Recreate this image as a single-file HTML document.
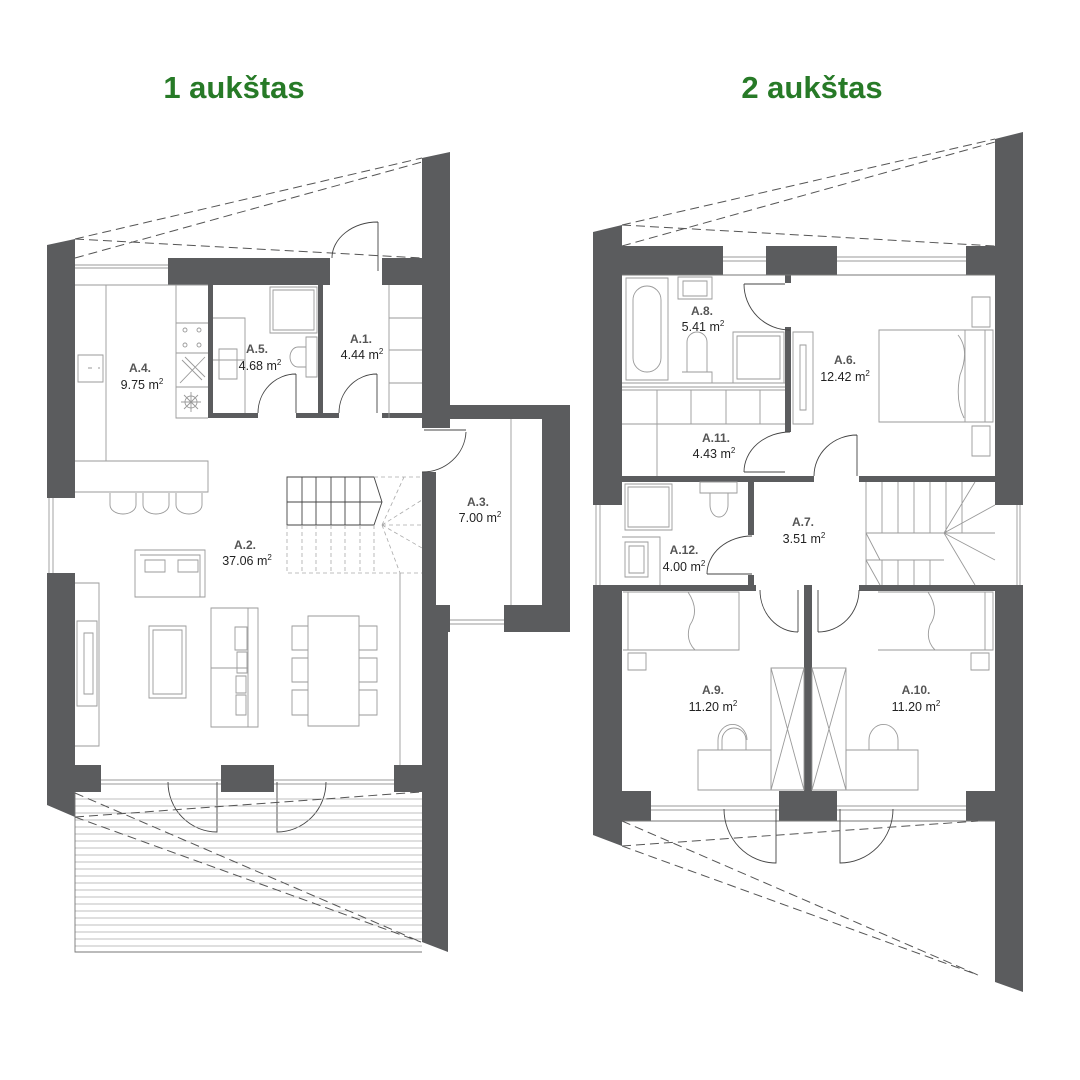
<!DOCTYPE html>
<html><head><meta charset="utf-8"><style>
html,body{margin:0;padding:0;background:#fff;}
svg{display:block;}
.w{fill:#5b5c5e;}
.t{fill:none;stroke:#9a9a9a;stroke-width:0.9;}
.k{fill:none;stroke:#444;stroke-width:0.9;}
.d{fill:none;stroke:#555;stroke-width:1;stroke-dasharray:9 5;}
.dl{fill:none;stroke:#aaa;stroke-width:0.8;stroke-dasharray:4 3;}
.lb{font-family:"Liberation Sans",sans-serif;font-size:12px;fill:#555;font-weight:bold;text-anchor:middle;}
.ar{font-family:"Liberation Sans",sans-serif;font-size:12.5px;fill:#222;text-anchor:middle;}
.ti{font-family:"Liberation Sans",sans-serif;font-size:31px;fill:#277a27;font-weight:bold;text-anchor:middle;}
</style></head><body>
<svg width="1080" height="1080" viewBox="0 0 1080 1080" xmlns="http://www.w3.org/2000/svg">
<text class="ti" x="234" y="98">1 aukštas</text>
<text class="ti" x="812" y="98">2 aukštas</text>

<!-- ===== FLOOR 1 ===== -->
<!-- dashed roof lines top -->
<path class="d" d="M75 239 L422 158 M75 258 L422 162 M75 239 L422 258"/>
<!-- walls -->
<polygon class="w" points="47,245 75,239 75,498 47,498"/>
<polygon class="w" points="47,573 75,573 75,765 101,765 101,792 75,792 75,817 47,805"/>
<rect class="w" x="168" y="258" width="162" height="27"/>
<rect class="w" x="382" y="258" width="40" height="27"/>
<polygon class="w" points="422,158 450,152 450,405 570,405 570,632 504,632 504,605 542,605 542,419 450,419 450,428 422,428"/>
<rect class="w" x="422" y="472" width="14" height="133"/>
<polygon class="w" points="422,605 450,605 450,632 436,632 436,632 448,632 448,952 422,942"/>
<rect class="w" x="221" y="765" width="53" height="27"/>
<rect class="w" x="394" y="765" width="28" height="27"/>
<!-- interior walls -->
<rect class="w" x="208" y="285" width="5" height="133"/>
<rect class="w" x="208" y="413" width="50" height="5"/>
<rect class="w" x="318" y="285" width="5" height="133"/>
<rect class="w" x="296" y="413" width="43" height="5"/>
<rect class="w" x="382" y="413" width="40" height="5"/>
<!-- windows -->
<path class="t" d="M75 265 H168 M75 268 H168 M49 498 V573 M53 498 V573 M450 620 H504 M450 624 H504 M101 780 H221 M101 784 H221 M274 780 H394 M274 784 H394"/>
<!-- doors -->
<path class="k" d="M378 222 V271 M332 258 A46 36 0 0 1 378 222"/>
<path class="k" d="M296 413 V374 M258 413 A38 39 0 0 1 296 374"/>
<path class="k" d="M377 413 V374 M339 413 A38 39 0 0 1 377 374"/>
<path class="k" d="M424 430 H466 M466 432 A44 42 0 0 1 422 472"/>
<path class="k" d="M168 782 A49 50 0 0 0 217 832 V782 M326 782 A49 50 0 0 1 277 832 V782"/>
<!-- kitchen -->
<path class="t" d="M75 285 H208 M106 285 V461 M75 461 H208 V492 H75 M78 355 H103 V382 H78 Z M176 285 V418 H208 M176 323 H208 M176 353 H208 M176 387 H208 M88 368 H92 M98 368 H100"/>
<path class="t" d="M110 493 V505 A13 9 0 0 0 136 505 V493 M143 493 V505 A13 9 0 0 0 169 505 V493 M176 493 V505 A13 9 0 0 0 202 505 V493"/>
<circle class="t" cx="191" cy="402" r="6"/><path class="t" d="M181 402 H201 M191 392 V412 M184 395 L198 409 M198 395 L184 409"/>
<path class="t" d="M182 360 L202 380 M185 357 L205 377 M180 383 L205 357"/>
<circle class="t" cx="185" cy="330" r="2"/><circle class="t" cx="199" cy="330" r="2"/><circle class="t" cx="185" cy="345" r="2"/><circle class="t" cx="199" cy="345" r="2"/>
<!-- A.5 -->
<path class="t" d="M270 287 H317 V333 H270 Z M273 290 H314 V330 H273 Z M219 349 H237 V379 H219 Z M306 337 H317 V377 H306 Z M213 318 H245 V413 M213 360 H245"/>
<path class="t" d="M306 347 H298 A8 10 0 0 0 298 367 H306"/>
<!-- A.1 shelves -->
<path class="t" d="M389 285 V418 M389 318 H422 M389 350 H422 M389 383 H422"/>
<!-- stairs -->
<path class="k" d="M287 477 H374 L382 502 L374 525 H287 Z M287 502 H382 M302 477 V525 M316 477 V525 M331 477 V525 M345 477 V525 M360 477 V525"/>
<path class="dl" d="M287 525 V573 H422 M302 525 V573 M316 525 V573 M331 525 V573 M345 525 V573 M360 525 V573 M374 525 V573 M382 525 L404 477 M382 525 L422 500 M382 525 L422 525 M382 525 L422 548 M382 525 L400 573 M374 477 H422"/>
<path class="t" d="M400 573 V765"/>
<!-- living furniture -->
<path class="t" d="M135 550 H205 V597 H135 Z M140 555 H200 V597 M145 560 H165 V572 H145 Z M178 560 H198 V572 H178 Z"/>
<path class="t" d="M75 583 H99 V746 H75 M77 621 H97 V706 H77 Z M84 633 H93 V694 H84 Z"/>
<path class="t" d="M149 626 H186 V698 H149 Z M153 630 H182 V694 H153 Z"/>
<path class="t" d="M211 608 H258 V727 H211 Z M211 668 H248 M248 608 V727 M235 627 H247 V650 H235 Z M237 652 H247 V673 H237 Z M236 676 H246 V693 H236 Z M236 695 H246 V715 H236 Z"/>
<path class="t" d="M308 616 H359 V726 H308 Z M292 626 H308 V650 H292 Z M292 658 H308 V682 H292 Z M292 690 H308 V715 H292 Z M359 626 H377 V650 H359 Z M359 658 H377 V682 H359 Z M359 690 H377 V715 H359 Z"/>
<path class="t" d="M511 419 V605"/>
<!-- terrace -->
<g stroke="#aaa" stroke-width="0.8">
<path d="M75 799 H422 M75 806 H422 M75 813 H422 M75 820 H422 M75 827 H422 M75 834 H422 M75 841 H422 M75 848 H422 M75 855 H422 M75 862 H422 M75 869 H422 M75 876 H422 M75 883 H422 M75 890 H422 M75 897 H422 M75 904 H422 M75 911 H422 M75 918 H422 M75 925 H422 M75 932 H422 M75 939 H422 M75 946 H422"/>
</g>
<path class="t" d="M75 792 V952 H422" style="stroke:#777"/>
<path class="d" d="M75 793 L421 942 M75 817 L421 942 M75 817 L421 792"/>
<!-- labels F1 -->
<text class="lb" x="140" y="372">A.4.</text><text class="ar" x="142" y="389">9.75 m<tspan dy="-5" font-size="8">2</tspan></text>
<text class="lb" x="257" y="353">A.5.</text><text class="ar" x="260" y="370">4.68 m<tspan dy="-5" font-size="8">2</tspan></text>
<text class="lb" x="361" y="343">A.1.</text><text class="ar" x="362" y="359">4.44 m<tspan dy="-5" font-size="8">2</tspan></text>
<text class="lb" x="245" y="549">A.2.</text><text class="ar" x="247" y="565">37.06 m<tspan dy="-5" font-size="8">2</tspan></text>
<text class="lb" x="478" y="506">A.3.</text><text class="ar" x="480" y="522">7.00 m<tspan dy="-5" font-size="8">2</tspan></text>

<!-- ===== FLOOR 2 ===== -->
<path class="d" d="M622 225 L995 139 M622 246 L995 142 M622 225 L995 246"/>
<polygon class="w" points="593,232 622,225 622,505 593,505"/>
<polygon class="w" points="593,585 622,585 622,791 651,791 651,821 622,821 622,846 593,835"/>
<polygon class="w" points="995,139 1023,132 1023,505 995,505"/>
<polygon class="w" points="995,585 1023,585 1023,992 995,982 995,821 966,821 966,791 995,791"/>
<rect class="w" x="622" y="246" width="101" height="29"/>
<rect class="w" x="766" y="246" width="71" height="29"/>
<rect class="w" x="966" y="246" width="29" height="29"/>
<rect class="w" x="779" y="791" width="58" height="30"/>
<rect class="w" x="804" y="585" width="8" height="206"/>
<!-- interior walls -->
<rect class="w" x="622" y="585" width="134" height="6"/>
<rect class="w" x="859" y="585" width="136" height="6"/>
<rect class="w" x="785" y="327" width="6" height="105"/>
<rect class="w" x="785" y="275" width="6" height="8"/>
<rect class="w" x="622" y="476" width="192" height="6"/>
<rect class="w" x="859" y="476" width="136" height="6"/>
<rect class="w" x="748" y="482" width="6" height="53"/>
<rect class="w" x="748" y="575" width="6" height="10"/>
<!-- windows -->
<path class="t" d="M723 257 H766 M723 261 H766 M837 257 H966 M837 261 H966 M596 505 V585 M600 505 V585 M1017 505 V585 M1020 505 V585 M651 806 H779 M651 810 H779 M837 806 H966 M837 810 H966"/>
<path class="t" d="M622 275 H995 M622 821 H995" style="stroke:#777"/>
<!-- doors -->
<path class="k" d="M744 284 H785 M744 284 A46 46 0 0 0 790 330"/>
<path class="k" d="M744 472 H785 M744 472 A46 40 0 0 1 790 432"/>
<path class="k" d="M857 435 V476 M814 476 A43 41 0 0 1 857 435"/>
<path class="k" d="M707 574 H752 M707 574 A45 38 0 0 1 752 536"/>
<path class="k" d="M798 590 V632 M760 590 A38 42 0 0 0 798 632"/>
<path class="k" d="M818 590 V632 M859 590 A41 42 0 0 1 818 632"/>
<path class="k" d="M724 809 A52 54 0 0 0 776 863 V809 M893 809 A53 54 0 0 1 840 863 V809"/>
<!-- A.8 -->
<path class="t" d="M626 278 H668 V380 H626 Z M633 300 A14 14 0 0 1 661 300 V358 A14 14 0 0 1 633 358 Z M678 277 H712 V299 H678 Z M683 281 H707 V296 H683 Z M687 342 A10 10 0 0 1 707 342 V372 H687 Z M682 372 H712 V383 M733 332 H784 V383 H733 Z M737 336 H780 V379 H737 Z M622 383 H785 M622 387 H785"/>
<!-- A.11 -->
<path class="t" d="M622 390 H785 M622 424 H785 M657 390 V476 M691 390 V424 M726 390 V424 M760 390 V424"/>
<!-- A.6 -->
<path class="t" d="M793 332 H813 V424 H793 Z M800 345 H806 V410 H800 Z M879 330 H993 V422 H879 Z M965 330 V422 M985 330 V422 M972 297 H990 V327 H972 Z M972 426 H990 V456 H972 Z"/>
<path class="t" d="M958 335 Q970 350 960 375 Q955 400 964 418"/>
<!-- A.12 -->
<path class="t" d="M625 484 H672 V530 H625 Z M628 487 H669 V527 H628 Z M700 482 H737 V493 H700 Z M710 493 H728 V505 A9 12 0 0 1 710 505 Z M625 542 H648 V577 H625 Z M629 546 H644 V573 H629 Z M622 537 H660 V585"/>
<!-- stairs F2 -->
<path class="t" d="M866 482 V585 M866 533 H995 M882 482 V533 M898 482 V533 M914 482 V533 M930 482 V533 M946 482 V533 M962 482 V533 M866 560 H944 M944 533 L975 482 M944 533 L995 505 M944 533 L995 560 M944 533 L975 585 M866 533 L880 560 M866 560 L880 585 M882 560 V585 M898 560 V585 M914 560 V585 M930 560 V585"/>
<!-- A.9/A.10 -->
<path class="t" d="M623 592 H739 V650 H623 M628 592 V650 M628 653 H646 V670 H628 Z M878 592 H993 V650 H878 M985 592 V650 M971 653 H989 V670 H971 Z"/>
<path class="t" d="M688 592 Q700 610 690 625 Q685 640 695 650 M928 592 Q940 610 930 625 Q925 640 935 650"/>
<path class="t" d="M771 668 H804 V790 H771 Z M771 668 L804 790 M804 668 L771 790 M812 668 H846 V790 H812 Z M812 668 L846 790 M846 668 L812 790"/>
<path class="t" d="M698 750 H771 V790 H698 Z M722 750 V740 A12 12 0 0 1 746 740 V750 M718 750 V740 A14 15 0 0 1 747 740 M846 750 H918 V790 H846 Z M869 750 V740 A14 15 0 0 1 898 740 V750"/>
<path class="d" d="M622 821 L978 975 M622 846 L978 975 M622 846 L978 821"/>
<!-- labels F2 -->
<text class="lb" x="702" y="315">A.8.</text><text class="ar" x="703" y="331">5.41 m<tspan dy="-5" font-size="8">2</tspan></text>
<text class="lb" x="845" y="364">A.6.</text><text class="ar" x="845" y="381">12.42 m<tspan dy="-5" font-size="8">2</tspan></text>
<text class="lb" x="716" y="442">A.11.</text><text class="ar" x="714" y="458">4.43 m<tspan dy="-5" font-size="8">2</tspan></text>
<text class="lb" x="684" y="554">A.12.</text><text class="ar" x="684" y="571">4.00 m<tspan dy="-5" font-size="8">2</tspan></text>
<text class="lb" x="803" y="526">A.7.</text><text class="ar" x="804" y="543">3.51 m<tspan dy="-5" font-size="8">2</tspan></text>
<text class="lb" x="713" y="694">A.9.</text><text class="ar" x="713" y="711">11.20 m<tspan dy="-5" font-size="8">2</tspan></text>
<text class="lb" x="916" y="694">A.10.</text><text class="ar" x="916" y="711">11.20 m<tspan dy="-5" font-size="8">2</tspan></text>
</svg>
</body></html>
